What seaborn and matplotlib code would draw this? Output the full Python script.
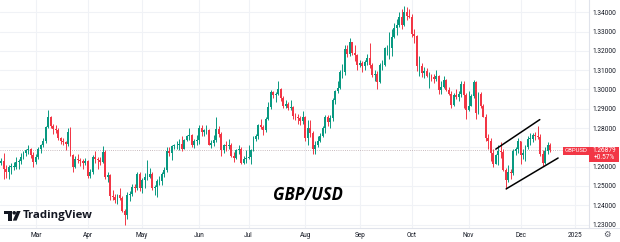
import numpy as np
import pandas as pd
import matplotlib
matplotlib.use("Agg")
import matplotlib.pyplot as plt
import seaborn as sns
from matplotlib.patches import Rectangle, Circle, Polygon

# ---------------- data (daily GBP/USD candles) ----------------
start_date = "2024-02-12"
first_open = 1.2620
last_price = 1.26879
last_change = "+0.57%"
symbol = "GBPUSD"
title = "GBP/USD"

close_feb = [1.2630, 1.2590, 1.2570, 1.2600, 1.2600, 1.2600, 1.2625, 1.2630, 1.2650, 1.2670, 1.2685, 1.2690, 1.2660, 1.2625]
high_feb = [1.2645, 1.2670, 1.2610, 1.2610, 1.2620, 1.2625, 1.2650, 1.2640, 1.2670, 1.2680, 1.2690, 1.2710, 1.2695, 1.2675]
low_feb = [1.2610, 1.2537, 1.2540, 1.2535, 1.2560, 1.2585, 1.2590, 1.2590, 1.2615, 1.2640, 1.2655, 1.2665, 1.2645, 1.2600]

close_mar = [1.2650, 1.2690, 1.2710, 1.2735, 1.2805, 1.2860, 1.2810, 1.2795, 1.2790, 1.2750, 1.2735, 1.2730, 1.2720, 1.2780, 1.2660, 1.2600, 1.2640, 1.2635, 1.2630, 1.2620, 1.2630]
high_mar = [1.2665, 1.2700, 1.2720, 1.2750, 1.2810, 1.2894, 1.2865, 1.2820, 1.2815, 1.2800, 1.2755, 1.2750, 1.2735, 1.2800, 1.2804, 1.2665, 1.2655, 1.2665, 1.2645, 1.2640, 1.2645]
low_mar = [1.2615, 1.2640, 1.2670, 1.2700, 1.2725, 1.2800, 1.2800, 1.2770, 1.2775, 1.2740, 1.2720, 1.2715, 1.2685, 1.2705, 1.2655, 1.2575, 1.2595, 1.2620, 1.2605, 1.2590, 1.2610]

close_apr = [1.2550, 1.2570, 1.2650, 1.2640, 1.2635, 1.2625, 1.2675, 1.2545, 1.2555, 1.2450, 1.2445, 1.2430, 1.2455, 1.2440, 1.2370, 1.2350, 1.2455, 1.2460, 1.2495, 1.2490, 1.2560, 1.2490]
high_apr = [1.2635, 1.2590, 1.2660, 1.2680, 1.2650, 1.2650, 1.2709, 1.2685, 1.2570, 1.2560, 1.2480, 1.2460, 1.2460, 1.2490, 1.2450, 1.2380, 1.2470, 1.2475, 1.2510, 1.2510, 1.2570, 1.2570]
low_apr = [1.2540, 1.2540, 1.2560, 1.2620, 1.2590, 1.2610, 1.2620, 1.2535, 1.2520, 1.2430, 1.2425, 1.2410, 1.2405, 1.2430, 1.2365, 1.2300, 1.2330, 1.2420, 1.2450, 1.2470, 1.2480, 1.2475]

close_may = [1.2530, 1.2545, 1.2545, 1.2560, 1.2490, 1.2495, 1.2525, 1.2525, 1.2560, 1.2585, 1.2680, 1.2670, 1.2705, 1.2710, 1.2710, 1.2720, 1.2690, 1.2740, 1.2760, 1.2765, 1.2710, 1.2735, 1.2740]
high_may = [1.2540, 1.2565, 1.2635, 1.2595, 1.2575, 1.2505, 1.2535, 1.2550, 1.2570, 1.2600, 1.2700, 1.2700, 1.2710, 1.2720, 1.2735, 1.2745, 1.2760, 1.2745, 1.2765, 1.2800, 1.2770, 1.2745, 1.2765]
low_may = [1.2465, 1.2490, 1.2530, 1.2540, 1.2480, 1.2455, 1.2445, 1.2505, 1.2505, 1.2545, 1.2575, 1.2655, 1.2635, 1.2690, 1.2690, 1.2685, 1.2680, 1.2690, 1.2735, 1.2740, 1.2700, 1.2695, 1.2710]

close_jun = [1.2800, 1.2780, 1.2790, 1.2790, 1.2715, 1.2725, 1.2740, 1.2795, 1.2770, 1.2685, 1.2710, 1.2705, 1.2715, 1.2655, 1.2645, 1.2685, 1.2690, 1.2620, 1.2640, 1.2645]
high_jun = [1.2815, 1.2815, 1.2795, 1.2815, 1.2795, 1.2740, 1.2765, 1.2860, 1.2810, 1.2780, 1.2720, 1.2735, 1.2745, 1.2725, 1.2675, 1.2690, 1.2710, 1.2700, 1.2655, 1.2685]
low_jun = [1.2720, 1.2760, 1.2760, 1.2770, 1.2710, 1.2695, 1.2705, 1.2730, 1.2755, 1.2655, 1.2670, 1.2680, 1.2690, 1.2650, 1.2625, 1.2640, 1.2665, 1.2615, 1.2615, 1.2620]

close_jul = [1.2650, 1.2685, 1.2745, 1.2760, 1.2815, 1.2805, 1.2790, 1.2845, 1.2910, 1.2985, 1.2970, 1.2975, 1.3000, 1.2955, 1.2915, 1.2925, 1.2905, 1.2910, 1.2865, 1.2855, 1.2850, 1.2835, 1.2855]
high_jul = [1.2710, 1.2690, 1.2760, 1.2770, 1.2820, 1.2845, 1.2815, 1.2860, 1.2935, 1.2995, 1.2990, 1.2985, 1.3044, 1.3010, 1.2965, 1.2945, 1.2935, 1.2945, 1.2915, 1.2880, 1.2875, 1.2865, 1.2890]
low_jul = [1.2640, 1.2615, 1.2680, 1.2735, 1.2745, 1.2795, 1.2765, 1.2780, 1.2840, 1.2900, 1.2955, 1.2935, 1.2970, 1.2940, 1.2905, 1.2905, 1.2895, 1.2895, 1.2845, 1.2840, 1.2820, 1.2815, 1.2820]

close_aug = [1.2750, 1.2800, 1.2775, 1.2690, 1.2710, 1.2735, 1.2760, 1.2800, 1.2855, 1.2830, 1.2850, 1.2945, 1.2990, 1.3010, 1.3090, 1.3090, 1.3210, 1.3185, 1.3245, 1.3190, 1.3180, 1.3125]
high_aug = [1.2865, 1.2840, 1.2840, 1.2785, 1.2735, 1.2760, 1.2775, 1.2810, 1.2870, 1.2870, 1.2870, 1.2955, 1.2995, 1.3045, 1.3100, 1.3130, 1.3230, 1.3230, 1.3266, 1.3245, 1.3230, 1.3185]
low_aug = [1.2735, 1.2715, 1.2755, 1.2665, 1.2665, 1.2700, 1.2730, 1.2755, 1.2775, 1.2810, 1.2800, 1.2835, 1.2925, 1.2980, 1.3000, 1.3060, 1.3075, 1.3170, 1.3175, 1.3180, 1.3150, 1.3100]

close_sep = [1.3135, 1.3120, 1.3140, 1.3165, 1.3125, 1.3075, 1.3080, 1.3040, 1.3125, 1.3125, 1.3215, 1.3215, 1.3215, 1.3270, 1.3320, 1.3335, 1.3375, 1.3335, 1.3400, 1.3380, 1.3375]
high_sep = [1.3155, 1.3150, 1.3155, 1.3185, 1.3240, 1.3135, 1.3100, 1.3095, 1.3135, 1.3155, 1.3220, 1.3230, 1.3300, 1.3315, 1.3345, 1.3365, 1.3400, 1.3415, 1.3435, 1.3430, 1.3415]
low_sep = [1.3115, 1.3090, 1.3100, 1.3125, 1.3110, 1.3065, 1.3045, 1.3000, 1.3035, 1.3100, 1.3120, 1.3180, 1.3160, 1.3175, 1.3265, 1.3280, 1.3325, 1.3315, 1.3330, 1.3360, 1.3370]

close_oct = [1.3290, 1.3275, 1.3120, 1.3120, 1.3085, 1.3095, 1.3070, 1.3070, 1.3065, 1.3055, 1.3070, 1.2995, 1.3015, 1.3050, 1.2995, 1.2975, 1.2920, 1.2970, 1.2960, 1.2975, 1.3030, 1.2970, 1.2895]
high_oct = [1.3390, 1.3315, 1.3280, 1.3175, 1.3135, 1.3115, 1.3110, 1.3090, 1.3080, 1.3080, 1.3100, 1.3075, 1.3045, 1.3070, 1.3055, 1.3015, 1.2990, 1.2980, 1.3000, 1.2990, 1.3045, 1.3045, 1.2980]
low_oct = [1.3270, 1.3240, 1.3095, 1.3070, 1.3065, 1.3060, 1.3065, 1.3010, 1.3045, 1.3035, 1.3045, 1.2975, 1.2975, 1.3010, 1.2990, 1.2970, 1.2905, 1.2915, 1.2950, 1.2940, 1.2960, 1.2905, 1.2845]

close_nov = [1.2915, 1.2965, 1.3040, 1.2880, 1.2975, 1.2915, 1.2860, 1.2750, 1.2735, 1.2670, 1.2615, 1.2660, 1.2680, 1.2675, 1.2585, 1.2530, 1.2570, 1.2565, 1.2680, 1.2690, 1.2735]
high_nov = [1.2990, 1.2975, 1.3050, 1.3045, 1.2985, 1.2985, 1.2925, 1.2875, 1.2770, 1.2750, 1.2690, 1.2665, 1.2715, 1.2730, 1.2690, 1.2595, 1.2610, 1.2590, 1.2690, 1.2700, 1.2750]
low_nov = [1.2890, 1.2915, 1.2955, 1.2845, 1.2875, 1.2905, 1.2855, 1.2735, 1.2690, 1.2630, 1.2600, 1.2615, 1.2610, 1.2645, 1.2580, 1.2487, 1.2520, 1.2535, 1.2555, 1.2660, 1.2670]

close_dec = [1.2660, 1.2670, 1.2700, 1.2745, 1.2745, 1.2765, 1.2760, 1.2755, 1.2665, 1.2620, 1.2680, 1.2712, 1.26879]
high_dec = [1.2735, 1.2690, 1.2710, 1.2760, 1.2775, 1.2775, 1.2780, 1.2810, 1.2770, 1.2685, 1.2700, 1.2730, 1.2725]
low_dec = [1.2615, 1.2640, 1.2630, 1.2690, 1.2715, 1.2730, 1.2740, 1.2745, 1.2655, 1.2605, 1.2615, 1.2665, 1.2675]

# price ticks and time ticks
price_ticks = [1.23, 1.24, 1.25, 1.26, 1.27, 1.28, 1.29, 1.30, 1.31, 1.32, 1.33, 1.34]
hidden_tick = 1.27   # covered by the last-price label in the reference
tick_months = ["2024-03", "2024-04", "2024-05", "2024-06", "2024-07", "2024-08",
               "2024-09", "2024-10", "2024-11", "2024-12", "2025-01"]
tick_labels = ["Mar", "Apr", "May", "Jun", "Jul", "Aug", "Sep", "Oct", "Nov", "Dec", "2025"]

# hand-drawn channel (bar index, price)
upper_x = [200.0, 217.8]
upper_y = [1.2691, 1.2844]
lower_x = [204.2, 225.2]
lower_y = [1.2485, 1.2645]

# ---------------- build table ----------------
closes = np.array(close_feb + close_mar + close_apr + close_may + close_jun + close_jul +
                  close_aug + close_sep + close_oct + close_nov + close_dec)
highs = np.array(high_feb + high_mar + high_apr + high_may + high_jun + high_jul +
                 high_aug + high_sep + high_oct + high_nov + high_dec)
lows = np.array(low_feb + low_mar + low_apr + low_may + low_jun + low_jul +
                low_aug + low_sep + low_oct + low_nov + low_dec)
opens = np.concatenate([[first_open], closes[:-1]])
highs = np.maximum(highs, np.maximum(opens, closes))
lows = np.minimum(lows, np.minimum(opens, closes))
dates = pd.bdate_range(start_date, periods=len(closes))
df = pd.DataFrame({"date": dates, "i": np.arange(len(closes)), "open": opens,
                   "high": highs, "low": lows, "close": closes})

GREEN = "#089981"
RED = "#f23645"
TXT = "#131722"
GRID = "#f0f2f6"
SEP = "#e0e3eb"

sns.set_theme(style="white")
plt.rcParams["font.family"] = ["Roboto", "DejaVu Sans"]

W, H = 620, 242
fig = plt.figure(figsize=(W / 100, H / 100), dpi=100)
fig.patch.set_facecolor("white")
ax = fig.add_axes([0, 14 / H, 589 / W, 228 / H])
ax.set_facecolor("white")

# grid
cal = pd.bdate_range(start_date, "2025-01-20")
tick_pos = [int(cal.searchsorted(pd.Timestamp(m + "-01"))) for m in tick_months]
for p in price_ticks:
    ax.axhline(p, color=GRID, lw=0.8, zorder=0)
for t in tick_pos:
    ax.axvline(t, color=GRID, lw=0.8, zorder=0)

up = (df["close"] >= df["open"]).values
cols = np.where(up, GREEN, RED)
ax.vlines(df["i"], df["low"], df["high"], colors=cols, lw=0.7, zorder=2)
body_bottom = np.minimum(df["open"], df["close"])
body_h = np.maximum((df["close"] - df["open"]).abs(), 0.00015)
ax.bar(df["i"], body_h, bottom=body_bottom, width=0.76, color=cols, linewidth=0, zorder=3)

# current price dotted line
ax.axhline(last_price, color="#b8a6ab", lw=0.6, ls=(0, (1, 1.6)), zorder=1)

# channel lines
sns.lineplot(x=upper_x, y=upper_y, ax=ax, color="black", lw=1.1, zorder=4)
sns.lineplot(x=lower_x, y=lower_y, ax=ax, color="black", lw=1.1, zorder=4)

ax.set_xlim(-0.5, 237.7)
ax.set_ylim(1.228238, 1.346373)

ax.set_xticks(tick_pos)
ax.set_xticklabels(tick_labels)
ax.set_yticks(price_ticks)
ax.set_yticklabels(["" if abs(p - hidden_tick) < 1e-9 else f"{p:.5f}" for p in price_ticks])
ax.yaxis.tick_right()
ax.tick_params(axis="both", length=0, labelsize=4.7, colors=TXT)
ax.tick_params(axis="y", pad=2.3)
ax.tick_params(axis="x", pad=3.0)
for s in ["top", "left"]:
    ax.spines[s].set_visible(False)
for s in ["right", "bottom"]:
    ax.spines[s].set_color(SEP)
    ax.spines[s].set_linewidth(0.8)
ax.set_xlabel("")
ax.set_ylabel("")

# ---------------- overlay (pixel coordinates) ----------------
ov = fig.add_axes([0, 0, 1, 1], zorder=5)
ov.set_xlim(0, W)
ov.set_ylim(H, 0)
ov.axis("off")
ov.patch.set_alpha(0)

# time-axis strip under the price scale (cuts the lowest price label as in the reference)
ov.add_patch(Rectangle((589.6, 228.4), W - 589.6, H - 228.4, color="white", lw=0))
ov.plot([589, W], [228, 228], color=SEP, lw=0.8)

y_disp = ax.transData.transform((0, last_price))[1]
yp = H - y_disp

# price label on axis
ov.add_patch(Rectangle((589, yp - 2.9), 30, 15.2, color=RED, lw=0))
ov.text(604, yp + 1.0, f"{last_price:.5f}", color="white", fontsize=4.7,
        ha="center", va="center")
ov.text(604, yp + 8.0, last_change, color="white", fontsize=4.7,
        ha="center", va="center")
# symbol label
ov.add_patch(Rectangle((563, yp - 2.9), 25.5, 8.0, color=RED, lw=0))
ov.text(575.8, yp + 1.1, symbol, color="white", fontsize=4.3,
        ha="center", va="center")

# gear icon
ov.text(607, 234.5, "\u2699", color="#50535e", fontsize=6, ha="center", va="center",
        family="DejaVu Sans")

# title
ov.text(308, 195, title, fontsize=12, fontweight="bold", fontstyle="italic",
        family=["Open Sans", "DejaVu Sans"], color="black", ha="center", va="center")

# TradingView logo
ov.add_patch(Rectangle((3.5, 211), 8.0, 3.4, color=TXT, lw=0))
ov.add_patch(Rectangle((8.1, 211), 3.4, 9.6, color=TXT, lw=0))
ov.add_patch(Circle((14.2, 212.8), 1.8, color=TXT, lw=0))
ov.add_patch(Polygon([(16.8, 211), (20.6, 211), (16.6, 220.6), (12.8, 220.6)],
                     closed=True, color=TXT, lw=0))
ov.text(23, 215.8, "TradingView", fontsize=8.2, fontweight="bold",
        family=["Open Sans", "DejaVu Sans"], color=TXT, ha="left", va="center")

fig.savefig("out.png", dpi=100, facecolor="white")
